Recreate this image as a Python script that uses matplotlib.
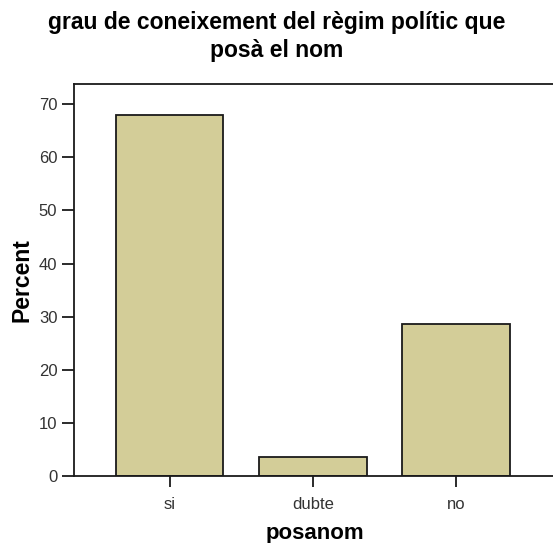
import matplotlib.pyplot as plt

plt.rcParams['font.family'] = ['Liberation Sans', 'DejaVu Sans']

categories = ['si', 'dubte', 'no']
percent = [67.9, 3.5, 28.6]
title_lines = ['grau de coneixement del règim polític que', 'posà el nom']

fig = plt.figure(figsize=(5.53, 5.43), dpi=100)
ax = fig.add_axes([0.1338, 0.1234, 0.8700, 0.7219])

ax.bar(range(len(categories)), percent, width=0.75, color='#d3cd98',
       edgecolor='#1a1a1a', linewidth=1.3)

ax.set_xlim(-0.667, 2.69)
ax.set_ylim(0, 73.8)
ax.set_yticks(range(0, 71, 10))
ax.set_xticks(range(len(categories)))
ax.set_xticklabels(categories)

for side in ['left', 'bottom', 'top', 'right']:
    ax.spines[side].set_linewidth(1.3)
    ax.spines[side].set_color('#1a1a1a')

ax.tick_params(axis='y', length=9, width=1.3, color='#1a1a1a',
               labelsize=12, labelcolor='#333333', pad=3)
ax.tick_params(axis='x', length=8, width=1.3, color='#1a1a1a',
               labelsize=12, labelcolor='#333333', pad=7)

ax.set_ylabel('Percent', fontsize=16.5, fontweight='bold', labelpad=4)
ax.set_xlabel('posanom', fontsize=16, fontweight='bold', labelpad=8)

# two-line title, one baseline per line
for y, line in zip([0.9466, 0.895], title_lines):
    fig.text(0.5, y, line, ha='center', va='baseline',
             fontsize=16.5, fontweight='bold')

fig.savefig('out.png', dpi=100)
